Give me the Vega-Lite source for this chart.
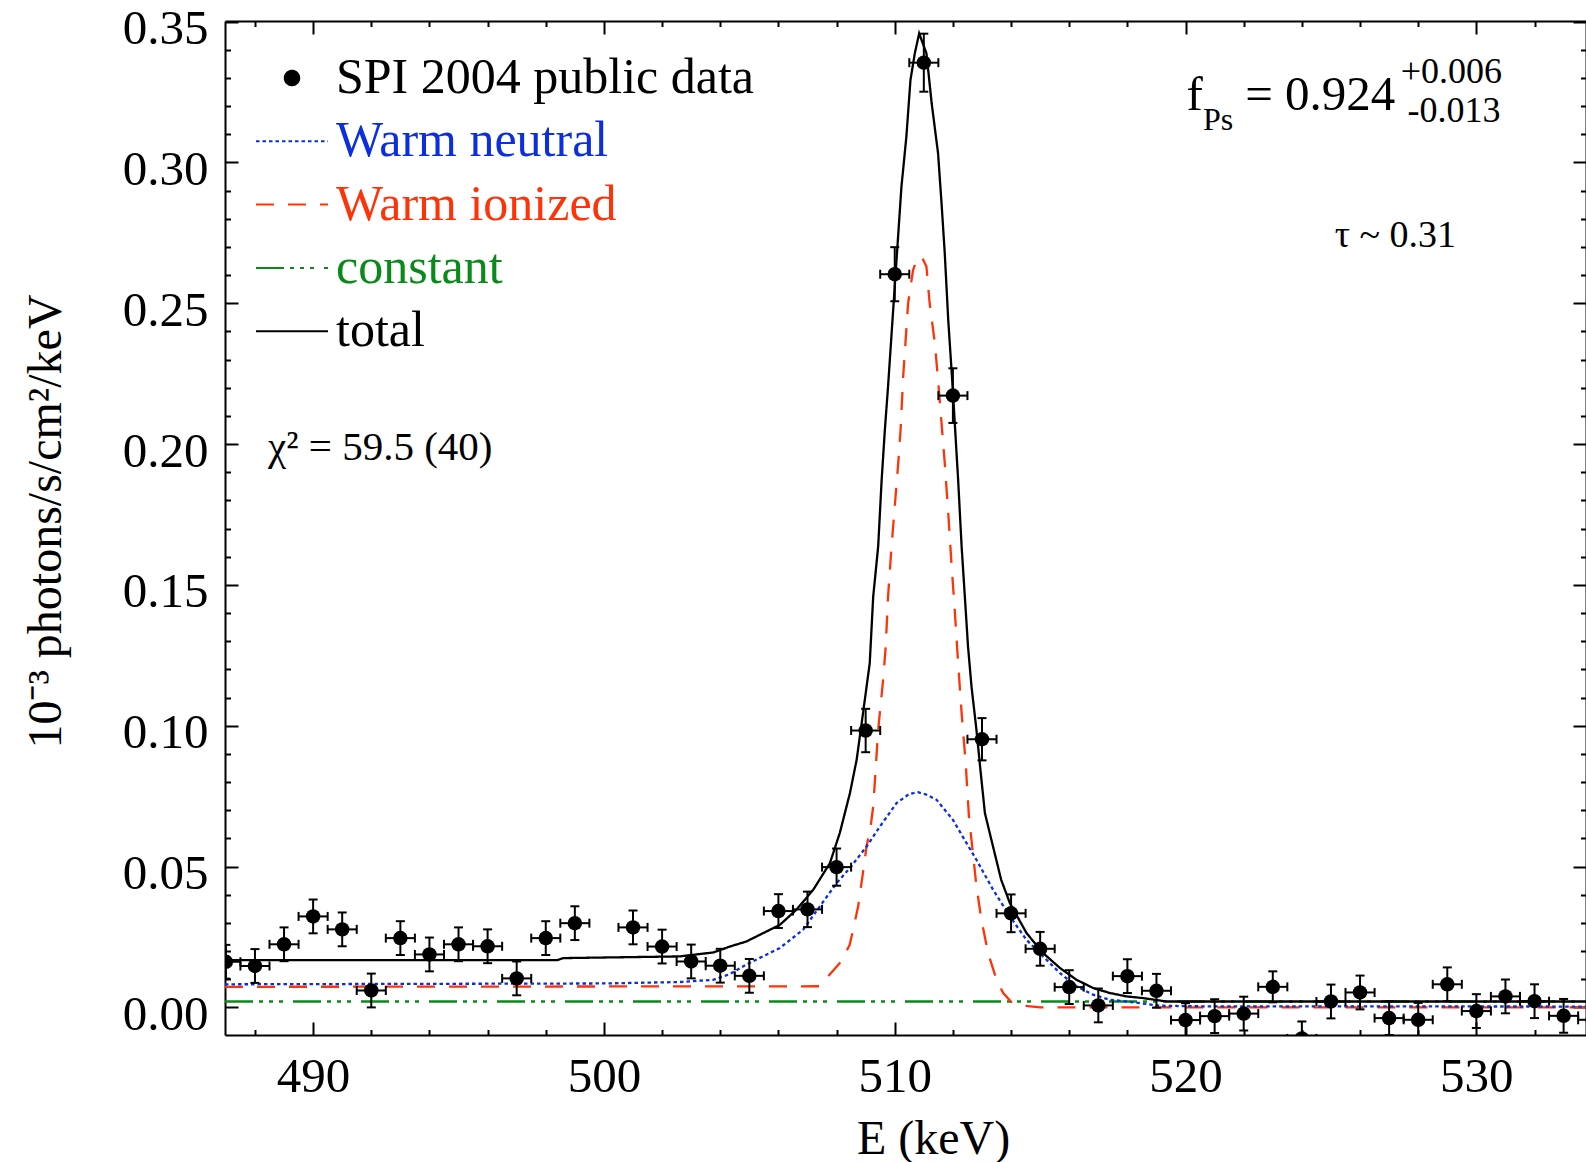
{
  "$schema": "https://vega.github.io/schema/vega-lite/v6.json",
  "width": 1361,
  "height": 1014,
  "autosize": {"type": "none"},
  "padding": {"left": 225, "top": 21, "right": 0, "bottom": 127},
  "background": "white",
  "config": {
    "view": {"stroke": null},
    "font": "Liberation Serif",
    "axis": {
      "domainColor": "black", "domainWidth": 2, "tickColor": "black", "tickWidth": 2, "grid": false,
      "labelFont": "Liberation Serif", "labelFontSize": 49, "labelColor": "black",
      "titleFont": "Liberation Serif", "titleFontSize": 48, "titleFontWeight": "normal", "titleColor": "black",
      "labelOverlap": false, "labelFlush": false
    },
    "legend": {
      "orient": "none", "legendX": 30, "legendY": 32, "padding": 0, "offset": 0,
      "labelFont": "Liberation Serif", "labelFontSize": 50, "labelLimit": 0, "labelOffset": 7,
      "rowPadding": 1.3, "symbolStrokeWidth": 2
    }
  },
  "datasets": {
    "pts": [
      {"series": "SPI 2004 public data", "E": 487, "flux": 0.0162, "ylo": 0.0102, "yhi": 0.0222, "xlo": 486.5, "xhi": 487.5},
      {"series": "SPI 2004 public data", "E": 488, "flux": 0.0147, "ylo": 0.0087, "yhi": 0.0207, "xlo": 487.5, "xhi": 488.5},
      {"series": "SPI 2004 public data", "E": 489, "flux": 0.0224, "ylo": 0.0164, "yhi": 0.0284, "xlo": 488.5, "xhi": 489.5},
      {"series": "SPI 2004 public data", "E": 490, "flux": 0.0323, "ylo": 0.0263, "yhi": 0.0383, "xlo": 489.5, "xhi": 490.5},
      {"series": "SPI 2004 public data", "E": 491, "flux": 0.0277, "ylo": 0.0217, "yhi": 0.0337, "xlo": 490.5, "xhi": 491.5},
      {"series": "SPI 2004 public data", "E": 492, "flux": 0.0060, "ylo": 0.0000, "yhi": 0.0120, "xlo": 491.5, "xhi": 492.5},
      {"series": "SPI 2004 public data", "E": 493, "flux": 0.0246, "ylo": 0.0186, "yhi": 0.0306, "xlo": 492.5, "xhi": 493.5},
      {"series": "SPI 2004 public data", "E": 494, "flux": 0.0188, "ylo": 0.0128, "yhi": 0.0248, "xlo": 493.5, "xhi": 494.5},
      {"series": "SPI 2004 public data", "E": 495, "flux": 0.0224, "ylo": 0.0164, "yhi": 0.0284, "xlo": 494.5, "xhi": 495.5},
      {"series": "SPI 2004 public data", "E": 496, "flux": 0.0217, "ylo": 0.0157, "yhi": 0.0277, "xlo": 495.5, "xhi": 496.5},
      {"series": "SPI 2004 public data", "E": 497, "flux": 0.0103, "ylo": 0.0043, "yhi": 0.0163, "xlo": 496.5, "xhi": 497.5},
      {"series": "SPI 2004 public data", "E": 498, "flux": 0.0246, "ylo": 0.0186, "yhi": 0.0306, "xlo": 497.5, "xhi": 498.5},
      {"series": "SPI 2004 public data", "E": 499, "flux": 0.0299, "ylo": 0.0239, "yhi": 0.0359, "xlo": 498.5, "xhi": 499.5},
      {"series": "SPI 2004 public data", "E": 501, "flux": 0.0284, "ylo": 0.0224, "yhi": 0.0344, "xlo": 500.5, "xhi": 501.5},
      {"series": "SPI 2004 public data", "E": 502, "flux": 0.0216, "ylo": 0.0156, "yhi": 0.0276, "xlo": 501.5, "xhi": 502.5},
      {"series": "SPI 2004 public data", "E": 503, "flux": 0.0163, "ylo": 0.0103, "yhi": 0.0223, "xlo": 502.5, "xhi": 503.5},
      {"series": "SPI 2004 public data", "E": 504, "flux": 0.0148, "ylo": 0.0088, "yhi": 0.0208, "xlo": 503.5, "xhi": 504.5},
      {"series": "SPI 2004 public data", "E": 505, "flux": 0.0112, "ylo": 0.0052, "yhi": 0.0172, "xlo": 504.5, "xhi": 505.5},
      {"series": "SPI 2004 public data", "E": 506, "flux": 0.0342, "ylo": 0.0282, "yhi": 0.0402, "xlo": 505.5, "xhi": 506.5},
      {"series": "SPI 2004 public data", "E": 507, "flux": 0.0348, "ylo": 0.0285, "yhi": 0.0411, "xlo": 506.5, "xhi": 507.5},
      {"series": "SPI 2004 public data", "E": 508, "flux": 0.0498, "ylo": 0.0432, "yhi": 0.0564, "xlo": 507.5, "xhi": 508.5},
      {"series": "SPI 2004 public data", "E": 509, "flux": 0.0983, "ylo": 0.0906, "yhi": 0.1060, "xlo": 508.5, "xhi": 509.5},
      {"series": "SPI 2004 public data", "E": 510, "flux": 0.2603, "ylo": 0.2507, "yhi": 0.2699, "xlo": 509.5, "xhi": 510.5},
      {"series": "SPI 2004 public data", "E": 511, "flux": 0.3354, "ylo": 0.3251, "yhi": 0.3457, "xlo": 510.5, "xhi": 511.5},
      {"series": "SPI 2004 public data", "E": 512, "flux": 0.2172, "ylo": 0.2075, "yhi": 0.2269, "xlo": 511.5, "xhi": 512.5},
      {"series": "SPI 2004 public data", "E": 513, "flux": 0.0952, "ylo": 0.0877, "yhi": 0.1027, "xlo": 512.5, "xhi": 513.5},
      {"series": "SPI 2004 public data", "E": 514, "flux": 0.0334, "ylo": 0.0267, "yhi": 0.0401, "xlo": 513.5, "xhi": 514.5},
      {"series": "SPI 2004 public data", "E": 515, "flux": 0.0208, "ylo": 0.0148, "yhi": 0.0268, "xlo": 514.5, "xhi": 515.5},
      {"series": "SPI 2004 public data", "E": 516, "flux": 0.0072, "ylo": 0.0012, "yhi": 0.0132, "xlo": 515.5, "xhi": 516.5},
      {"series": "SPI 2004 public data", "E": 517, "flux": 0.0007, "ylo": -0.0053, "yhi": 0.0067, "xlo": 516.5, "xhi": 517.5},
      {"series": "SPI 2004 public data", "E": 518, "flux": 0.0111, "ylo": 0.0051, "yhi": 0.0171, "xlo": 517.5, "xhi": 518.5},
      {"series": "SPI 2004 public data", "E": 519, "flux": 0.0059, "ylo": -0.0001, "yhi": 0.0119, "xlo": 518.5, "xhi": 519.5},
      {"series": "SPI 2004 public data", "E": 520, "flux": -0.0045, "ylo": -0.0105, "yhi": 0.0015, "xlo": 519.5, "xhi": 520.5},
      {"series": "SPI 2004 public data", "E": 521, "flux": -0.0031, "ylo": -0.0091, "yhi": 0.0029, "xlo": 520.5, "xhi": 521.5},
      {"series": "SPI 2004 public data", "E": 522, "flux": -0.0022, "ylo": -0.0082, "yhi": 0.0038, "xlo": 521.5, "xhi": 522.5},
      {"series": "SPI 2004 public data", "E": 523, "flux": 0.0073, "ylo": 0.0018, "yhi": 0.0128, "xlo": 522.5, "xhi": 523.5},
      {"series": "SPI 2004 public data", "E": 524, "flux": -0.0110, "ylo": -0.0170, "yhi": -0.0050, "xlo": 523.5, "xhi": 524.5},
      {"series": "SPI 2004 public data", "E": 525, "flux": 0.0021, "ylo": -0.0039, "yhi": 0.0081, "xlo": 524.5, "xhi": 525.5},
      {"series": "SPI 2004 public data", "E": 526, "flux": 0.0053, "ylo": -0.0007, "yhi": 0.0113, "xlo": 525.5, "xhi": 526.5},
      {"series": "SPI 2004 public data", "E": 527, "flux": -0.0038, "ylo": -0.0098, "yhi": 0.0022, "xlo": 526.5, "xhi": 527.5},
      {"series": "SPI 2004 public data", "E": 528, "flux": -0.0044, "ylo": -0.0104, "yhi": 0.0016, "xlo": 527.5, "xhi": 528.5},
      {"series": "SPI 2004 public data", "E": 529, "flux": 0.0082, "ylo": 0.0022, "yhi": 0.0142, "xlo": 528.5, "xhi": 529.5},
      {"series": "SPI 2004 public data", "E": 530, "flux": -0.0013, "ylo": -0.0073, "yhi": 0.0047, "xlo": 529.5, "xhi": 530.5},
      {"series": "SPI 2004 public data", "E": 531, "flux": 0.0039, "ylo": -0.0021, "yhi": 0.0099, "xlo": 530.5, "xhi": 531.5},
      {"series": "SPI 2004 public data", "E": 532, "flux": 0.0022, "ylo": -0.0038, "yhi": 0.0082, "xlo": 531.5, "xhi": 532.5},
      {"series": "SPI 2004 public data", "E": 533, "flux": -0.0030, "ylo": -0.0090, "yhi": 0.0030, "xlo": 532.5, "xhi": 533.5},
      {"series": "SPI 2004 public data", "E": 534, "flux": -0.0044, "ylo": -0.0104, "yhi": 0.0016, "xlo": 533.5, "xhi": 534.5}
    ],
    "curves": [
      {"series": "constant", "E": 486.97, "flux": 0.0021},
      {"series": "constant", "E": 533.77, "flux": 0.0021},
      {"series": "Warm ionized", "E": 486.97, "flux": 0.0073},
      {"series": "Warm ionized", "E": 507.4, "flux": 0.0075},
      {"series": "Warm ionized", "E": 507.65, "flux": 0.0104},
      {"series": "Warm ionized", "E": 508.16, "flux": 0.0163},
      {"series": "Warm ionized", "E": 508.45, "flux": 0.0222},
      {"series": "Warm ionized", "E": 508.57, "flux": 0.0276},
      {"series": "Warm ionized", "E": 508.74, "flux": 0.0358},
      {"series": "Warm ionized", "E": 508.89, "flux": 0.0465},
      {"series": "Warm ionized", "E": 509.03, "flux": 0.0571},
      {"series": "Warm ionized", "E": 509.17, "flux": 0.0642},
      {"series": "Warm ionized", "E": 509.26, "flux": 0.0713},
      {"series": "Warm ionized", "E": 509.32, "flux": 0.0808},
      {"series": "Warm ionized", "E": 509.43, "flux": 0.0985},
      {"series": "Warm ionized", "E": 509.6, "flux": 0.1163},
      {"series": "Warm ionized", "E": 509.69, "flux": 0.1281},
      {"series": "Warm ionized", "E": 509.77, "flux": 0.1459},
      {"series": "Warm ionized", "E": 509.89, "flux": 0.1636},
      {"series": "Warm ionized", "E": 510.0, "flux": 0.1778},
      {"series": "Warm ionized", "E": 510.12, "flux": 0.1932},
      {"series": "Warm ionized", "E": 510.2, "flux": 0.205},
      {"series": "Warm ionized", "E": 510.29, "flux": 0.2239},
      {"series": "Warm ionized", "E": 510.46, "flux": 0.25},
      {"series": "Warm ionized", "E": 510.63, "flux": 0.2618},
      {"series": "Warm ionized", "E": 510.8, "flux": 0.2665},
      {"series": "Warm ionized", "E": 510.95, "flux": 0.266},
      {"series": "Warm ionized", "E": 511.09, "flux": 0.263},
      {"series": "Warm ionized", "E": 511.2, "flux": 0.25},
      {"series": "Warm ionized", "E": 511.38, "flux": 0.2358},
      {"series": "Warm ionized", "E": 511.49, "flux": 0.2227},
      {"series": "Warm ionized", "E": 511.72, "flux": 0.1932},
      {"series": "Warm ionized", "E": 511.84, "flux": 0.1754},
      {"series": "Warm ionized", "E": 511.95, "flux": 0.1577},
      {"series": "Warm ionized", "E": 512.07, "flux": 0.14},
      {"series": "Warm ionized", "E": 512.18, "flux": 0.1222},
      {"series": "Warm ionized", "E": 512.3, "flux": 0.1045},
      {"series": "Warm ionized", "E": 512.44, "flux": 0.0867},
      {"series": "Warm ionized", "E": 512.55, "flux": 0.068},
      {"series": "Warm ionized", "E": 512.7, "flux": 0.0536},
      {"series": "Warm ionized", "E": 512.81, "flux": 0.043},
      {"series": "Warm ionized", "E": 512.98, "flux": 0.0311},
      {"series": "Warm ionized", "E": 513.21, "flux": 0.0193},
      {"series": "Warm ionized", "E": 513.5, "flux": 0.0098},
      {"series": "Warm ionized", "E": 513.73, "flux": 0.0051},
      {"series": "Warm ionized", "E": 514.0, "flux": 0.002},
      {"series": "Warm ionized", "E": 514.42, "flux": 0.0006},
      {"series": "Warm ionized", "E": 515.0, "flux": 0.0},
      {"series": "Warm ionized", "E": 533.77, "flux": 0.0},
      {"series": "Warm neutral", "E": 486.97, "flux": 0.0082},
      {"series": "Warm neutral", "E": 500.0, "flux": 0.0085},
      {"series": "Warm neutral", "E": 502.6, "flux": 0.009},
      {"series": "Warm neutral", "E": 503.76, "flux": 0.0098},
      {"series": "Warm neutral", "E": 504.33, "flux": 0.0118},
      {"series": "Warm neutral", "E": 504.9, "flux": 0.0152},
      {"series": "Warm neutral", "E": 506.05, "flux": 0.0211},
      {"series": "Warm neutral", "E": 506.85, "flux": 0.0276},
      {"series": "Warm neutral", "E": 507.42, "flux": 0.0358},
      {"series": "Warm neutral", "E": 508.0, "flux": 0.0441},
      {"series": "Warm neutral", "E": 508.46, "flux": 0.0495},
      {"series": "Warm neutral", "E": 509.03, "flux": 0.0571},
      {"series": "Warm neutral", "E": 509.49, "flux": 0.0642},
      {"series": "Warm neutral", "E": 510.06, "flux": 0.0725},
      {"series": "Warm neutral", "E": 510.5, "flux": 0.0758},
      {"series": "Warm neutral", "E": 510.8, "flux": 0.0764},
      {"series": "Warm neutral", "E": 511.1, "flux": 0.0755},
      {"series": "Warm neutral", "E": 511.44, "flux": 0.0737},
      {"series": "Warm neutral", "E": 512.0, "flux": 0.0666},
      {"series": "Warm neutral", "E": 512.47, "flux": 0.0583},
      {"series": "Warm neutral", "E": 512.81, "flux": 0.0524},
      {"series": "Warm neutral", "E": 513.38, "flux": 0.0418},
      {"series": "Warm neutral", "E": 513.96, "flux": 0.0323},
      {"series": "Warm neutral", "E": 514.53, "flux": 0.024},
      {"series": "Warm neutral", "E": 515.1, "flux": 0.0181},
      {"series": "Warm neutral", "E": 515.68, "flux": 0.0122},
      {"series": "Warm neutral", "E": 516.25, "flux": 0.0075},
      {"series": "Warm neutral", "E": 516.82, "flux": 0.0045},
      {"series": "Warm neutral", "E": 517.4, "flux": 0.0027},
      {"series": "Warm neutral", "E": 517.97, "flux": 0.0021},
      {"series": "Warm neutral", "E": 519.12, "flux": 0.0006},
      {"series": "Warm neutral", "E": 520.26, "flux": 0.0004},
      {"series": "Warm neutral", "E": 533.77, "flux": 0.0003},
      {"series": "total", "E": 486.97, "flux": 0.0168},
      {"series": "total", "E": 498.4, "flux": 0.0168},
      {"series": "total", "E": 498.6, "flux": 0.0175},
      {"series": "total", "E": 502.6, "flux": 0.0181},
      {"series": "total", "E": 503.76, "flux": 0.0195},
      {"series": "total", "E": 504.33, "flux": 0.0216},
      {"series": "total", "E": 504.9, "flux": 0.0234},
      {"series": "total", "E": 505.48, "flux": 0.0264},
      {"series": "total", "E": 506.05, "flux": 0.0293},
      {"series": "total", "E": 506.62, "flux": 0.0347},
      {"series": "total", "E": 507.2, "flux": 0.0418},
      {"series": "total", "E": 507.77, "flux": 0.0512},
      {"series": "total", "E": 508.11, "flux": 0.0619},
      {"series": "total", "E": 508.46, "flux": 0.0761},
      {"series": "total", "E": 508.69, "flux": 0.0879},
      {"series": "total", "E": 508.91, "flux": 0.1045},
      {"series": "total", "E": 509.14, "flux": 0.1222},
      {"series": "total", "E": 509.26, "flux": 0.1459},
      {"series": "total", "E": 509.43, "flux": 0.1636},
      {"series": "total", "E": 509.55, "flux": 0.1873},
      {"series": "total", "E": 509.66, "flux": 0.205},
      {"series": "total", "E": 509.77, "flux": 0.2204},
      {"series": "total", "E": 510.0, "flux": 0.2559},
      {"series": "total", "E": 510.23, "flux": 0.2913},
      {"series": "total", "E": 510.4, "flux": 0.3091},
      {"series": "total", "E": 510.54, "flux": 0.3292},
      {"series": "total", "E": 510.69, "flux": 0.3387},
      {"series": "total", "E": 510.84, "flux": 0.3458},
      {"series": "total", "E": 511.09, "flux": 0.3387},
      {"series": "total", "E": 511.27, "flux": 0.321},
      {"series": "total", "E": 511.49, "flux": 0.3032},
      {"series": "total", "E": 511.61, "flux": 0.2854},
      {"series": "total", "E": 511.72, "flux": 0.2677},
      {"series": "total", "E": 511.84, "flux": 0.244},
      {"series": "total", "E": 511.99, "flux": 0.2204},
      {"series": "total", "E": 512.18, "flux": 0.1873},
      {"series": "total", "E": 512.3, "flux": 0.1636},
      {"series": "total", "E": 512.41, "flux": 0.1459},
      {"series": "total", "E": 512.52, "flux": 0.1281},
      {"series": "total", "E": 512.64, "flux": 0.1139},
      {"series": "total", "E": 512.81, "flux": 0.0985},
      {"series": "total", "E": 512.95, "flux": 0.084},
      {"series": "total", "E": 513.1, "flux": 0.069},
      {"series": "total", "E": 513.38, "flux": 0.0571},
      {"series": "total", "E": 513.66, "flux": 0.0453},
      {"series": "total", "E": 513.96, "flux": 0.037},
      {"series": "total", "E": 514.53, "flux": 0.0264},
      {"series": "total", "E": 515.1, "flux": 0.0193},
      {"series": "total", "E": 515.68, "flux": 0.014},
      {"series": "total", "E": 516.25, "flux": 0.0098},
      {"series": "total", "E": 516.82, "flux": 0.0069},
      {"series": "total", "E": 517.4, "flux": 0.0051},
      {"series": "total", "E": 517.97, "flux": 0.0039},
      {"series": "total", "E": 518.54, "flux": 0.0033},
      {"series": "total", "E": 519.35, "flux": 0.0021},
      {"series": "total", "E": 533.77, "flux": 0.0021}
    ]
  },
  "resolve": {"axis": {"x": "independent", "y": "independent"}},
  "layer": [
    {
      "data": {"name": "curves"},
      "mark": {"type": "line", "strokeWidth": 2.3, "clip": true},
      "encoding": {
        "x": {"field": "E", "type": "quantitative",
          "scale": {"domain": [486.97, 533.77], "nice": false, "zero": false},
          "axis": {"orient": "bottom",
            "values": [488,490,492,494,496,498,500,502,504,506,508,510,512,514,516,518,520,522,524,526,528,530,532],
            "labelExpr": "datum.value % 10 === 0 ? format(datum.value, 'd') : ''",
            "tickSize": {"condition": {"test": "datum.value % 10 === 0", "value": -13}, "value": -5.5},
            "labelPadding": 69, "labelBaseline": "alphabetic",
            "title": "E (keV)", "titleX": 708, "titleY": 118, "titleBaseline": "alphabetic", "titleAlign": "center"}},
        "y": {"field": "flux", "type": "quantitative",
          "scale": {"domain": [-0.0098, 0.3502], "nice": false, "zero": false},
          "axis": {"orient": "left",
            "values": [0,0.01,0.02,0.03,0.04,0.05,0.06,0.07,0.08,0.09,0.1,0.11,0.12,0.13,0.14,0.15,0.16,0.17,0.18,0.19,0.2,0.21,0.22,0.23,0.24,0.25,0.26,0.27,0.28,0.29,0.3,0.31,0.32,0.33,0.34,0.35],
            "labelExpr": "abs(round(datum.value*100)) % 5 === 0 ? format(datum.value, '.2f') : ''",
            "tickSize": {"condition": {"test": "abs(round(datum.value*100)) % 5 === 0", "value": -13}, "value": -5.5},
            "labelPadding": 30, "labelOffset": 7, "labelAlign": "right", "labelBaseline": "middle",
            "title": "10⁻³ photons/s/cm²/keV", "titleX": -165, "titleY": 500, "titleAngle": -90,
            "titleBaseline": "alphabetic", "titleAlign": "center"}},
        "color": {"field": "series", "type": "nominal",
          "scale": {"domain": ["SPI 2004 public data", "Warm neutral", "Warm ionized", "constant", "total"],
                    "range": ["#000000", "#0B2FE0", "#FF3308", "#0A8A1A", "#000000"]},
          "legend": {"title": null,
            "labelColor": {"expr": "datum.value === 'Warm neutral' ? '#0B2FE0' : datum.value === 'Warm ionized' ? '#FF3308' : datum.value === 'constant' ? '#0A8A1A' : '#000000'"}}},
        "strokeDash": {"field": "series", "type": "nominal",
          "scale": {"domain": ["SPI 2004 public data", "Warm neutral", "Warm ionized", "constant", "total"],
                    "range": [[1, 0], [3.5, 3], [18, 14], [28, 6, 4, 6, 4, 6, 4, 10], [1, 0]]},
          "legend": {"title": null}}
      }
    },
    {
      "data": {"name": "pts"},
      "mark": {"type": "rule", "color": "black", "strokeWidth": 2, "clip": true},
      "encoding": {
        "x": {"field": "E", "type": "quantitative", "axis": null},
        "y": {"field": "ylo", "type": "quantitative", "axis": null},
        "y2": {"field": "yhi"}
      }
    },
    {
      "data": {"name": "pts"},
      "mark": {"type": "rule", "color": "black", "strokeWidth": 2, "clip": true},
      "encoding": {
        "x": {"field": "xlo", "type": "quantitative", "axis": null},
        "x2": {"field": "xhi"},
        "y": {"field": "flux", "type": "quantitative", "axis": null}
      }
    },
    {
      "data": {"name": "pts"},
      "mark": {"type": "tick", "orient": "horizontal", "color": "black", "size": 9, "thickness": 2, "opacity": 1, "clip": true},
      "encoding": {
        "x": {"field": "E", "type": "quantitative", "axis": null},
        "y": {"field": "yhi", "type": "quantitative", "axis": null}
      }
    },
    {
      "data": {"name": "pts"},
      "mark": {"type": "tick", "orient": "horizontal", "color": "black", "size": 9, "thickness": 2, "opacity": 1, "clip": true},
      "encoding": {
        "x": {"field": "E", "type": "quantitative", "axis": null},
        "y": {"field": "ylo", "type": "quantitative", "axis": null}
      }
    },
    {
      "data": {"name": "pts"},
      "mark": {"type": "tick", "orient": "vertical", "color": "black", "size": 9, "thickness": 2, "opacity": 1, "clip": true},
      "encoding": {
        "x": {"field": "xlo", "type": "quantitative", "axis": null},
        "y": {"field": "flux", "type": "quantitative", "axis": null}
      }
    },
    {
      "data": {"name": "pts"},
      "mark": {"type": "tick", "orient": "vertical", "color": "black", "size": 9, "thickness": 2, "opacity": 1, "clip": true},
      "encoding": {
        "x": {"field": "xhi", "type": "quantitative", "axis": null},
        "y": {"field": "flux", "type": "quantitative", "axis": null}
      }
    },
    {
      "data": {"name": "pts"},
      "mark": {"type": "point", "filled": true, "color": "black", "opacity": 1, "clip": true},
      "encoding": {
        "x": {"field": "E", "type": "quantitative",
          "axis": {"orient": "top", "labels": false, "title": null,
            "values": [488,490,492,494,496,498,500,502,504,506,508,510,512,514,516,518,520,522,524,526,528,530,532],
            "tickSize": {"condition": {"test": "datum.value % 10 === 0", "value": -13}, "value": -5.5}}},
        "y": {"field": "flux", "type": "quantitative",
          "axis": {"orient": "right", "labels": false, "title": null,
            "values": [0,0.01,0.02,0.03,0.04,0.05,0.06,0.07,0.08,0.09,0.1,0.11,0.12,0.13,0.14,0.15,0.16,0.17,0.18,0.19,0.2,0.21,0.22,0.23,0.24,0.25,0.26,0.27,0.28,0.29,0.3,0.31,0.32,0.33,0.34,0.35],
            "tickSize": {"condition": {"test": "abs(round(datum.value*100)) % 5 === 0", "value": -13}, "value": -5.5}}},
        "shape": {"field": "series", "type": "nominal",
          "scale": {"domain": ["SPI 2004 public data", "Warm neutral", "Warm ionized", "constant", "total"],
                    "range": ["circle", "stroke", "stroke", "stroke", "stroke"]},
          "legend": {"title": null}},
        "size": {"field": "series", "type": "nominal",
          "scale": {"type": "ordinal", "domain": ["SPI 2004 public data", "Warm neutral", "Warm ionized", "constant", "total"],
                    "range": [210, 5184, 5184, 5184, 5184]},
          "legend": {"title": null}}
      }
    },
    {
      "data": {"values": [{}]},
      "mark": {"type": "text", "text": "f", "align": "left", "baseline": "alphabetic", "fontSize": 49, "font": "Liberation Serif", "color": "black"},
      "encoding": {"x": {"datum": 520.03, "type": "quantitative", "axis": null}, "y": {"datum": 0.3186, "type": "quantitative", "axis": null}}
    },
    {
      "data": {"values": [{}]},
      "mark": {"type": "text", "text": "Ps", "align": "left", "baseline": "alphabetic", "fontSize": 32, "font": "Liberation Serif", "color": "black"},
      "encoding": {"x": {"datum": 520.6, "type": "quantitative", "axis": null}, "y": {"datum": 0.3115, "type": "quantitative", "axis": null}}
    },
    {
      "data": {"values": [{}]},
      "mark": {"type": "text", "text": "= 0.924", "align": "left", "baseline": "alphabetic", "fontSize": 49, "font": "Liberation Serif", "color": "black"},
      "encoding": {"x": {"datum": 522.05, "type": "quantitative", "axis": null}, "y": {"datum": 0.3186, "type": "quantitative", "axis": null}}
    },
    {
      "data": {"values": [{}]},
      "mark": {"type": "text", "text": "+0.006", "align": "left", "baseline": "alphabetic", "fontSize": 36, "font": "Liberation Serif", "color": "black"},
      "encoding": {"x": {"datum": 527.4, "type": "quantitative", "axis": null}, "y": {"datum": 0.3282, "type": "quantitative", "axis": null}}
    },
    {
      "data": {"values": [{}]},
      "mark": {"type": "text", "text": "-0.013", "align": "left", "baseline": "alphabetic", "fontSize": 36, "font": "Liberation Serif", "color": "black"},
      "encoding": {"x": {"datum": 527.63, "type": "quantitative", "axis": null}, "y": {"datum": 0.3144, "type": "quantitative", "axis": null}}
    },
    {
      "data": {"values": [{}]},
      "mark": {"type": "text", "text": "τ ~ 0.31", "align": "left", "baseline": "alphabetic", "fontSize": 38, "font": "Liberation Serif", "color": "black"},
      "encoding": {"x": {"datum": 525.13, "type": "quantitative", "axis": null}, "y": {"datum": 0.27, "type": "quantitative", "axis": null}}
    },
    {
      "data": {"values": [{}]},
      "mark": {"type": "text", "text": "χ² = 59.5 (40)", "align": "left", "baseline": "alphabetic", "fontSize": 41, "font": "Liberation Serif", "color": "black"},
      "encoding": {"x": {"datum": 488.45, "type": "quantitative", "axis": null}, "y": {"datum": 0.1944, "type": "quantitative", "axis": null}}
    }
  ]
}
